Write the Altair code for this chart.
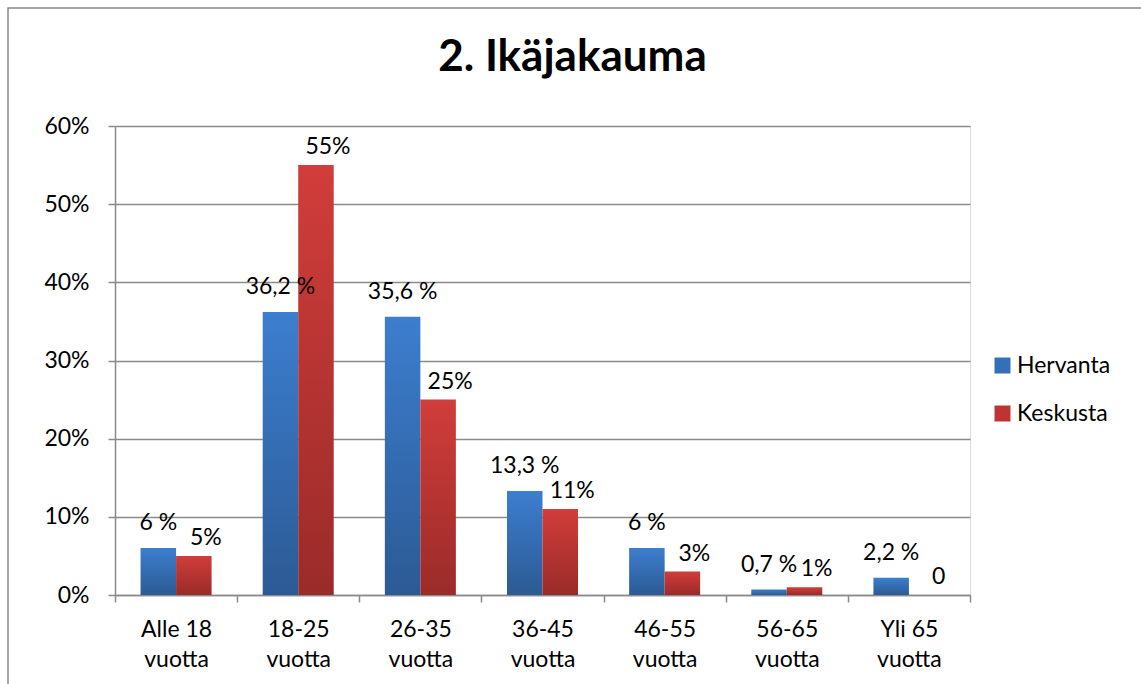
import altair as alt
import pandas as pd

categories = ["Alle 18\nvuotta", "18-25\nvuotta", "26-35\nvuotta", "36-45\nvuotta",
              "46-55\nvuotta", "56-65\nvuotta", "Yli 65\nvuotta"]
series = ["Hervanta", "Keskusta"]
hervanta = [0.06, 0.362, 0.356, 0.133, 0.06, 0.007, 0.022]
keskusta = [0.05, 0.55, 0.25, 0.11, 0.03, 0.01, 0.0]
hervanta_labels = ["6 %", "36,2 %", "35,6 %", "13,3 %", "6 %", "0,7 %", "2,2 %"]
keskusta_labels = ["5%", "55%", "25%", "11%", "3%", "1%", "0"]

rows = []
for c, v, l in zip(categories, hervanta, hervanta_labels):
    rows.append({"cat": c, "series": "Hervanta", "value": v, "label": l})
for c, v, l in zip(categories, keskusta, keskusta_labels):
    rows.append({"cat": c, "series": "Keskusta", "value": v, "label": l})
df = pd.DataFrame(rows)

FONT = "Lato"
GRID = "#8a8a8a"

x_enc = alt.X("cat:N", sort=categories, title=None,
              scale=alt.Scale(paddingInner=0, paddingOuter=0),
              axis=alt.Axis(labelAngle=0, labelExpr="split(datum.label, '\\n')",
                            tickBand="extent", tickSize=7, tickColor=GRID, tickWidth=1.5,
                            domainColor=GRID, domainWidth=1.5, labelFontSize=23,
                            labelFont=FONT, labelColor="black", labelPadding=16,
                            labelLineHeight=30, grid=False))
xoff = alt.XOffset("series:N", scale=alt.Scale(domain=series, paddingInner=0, paddingOuter=0.72))
y_enc = alt.Y("value:Q", title=None,
              scale=alt.Scale(domain=[0, 0.6], nice=False),
              axis=alt.Axis(values=[0, 0.1, 0.2, 0.3, 0.4, 0.5, 0.6], format=".0%",
                            gridColor=GRID, gridWidth=1.5, domainColor=GRID, domainWidth=1.5,
                            tickColor=GRID, tickWidth=1.5, tickSize=7,
                            labelFontSize=23, labelFont=FONT, labelColor="black",
                            labelPadding=19))

def grad(top, bottom):
    return {"gradient": "linear", "x1": 0, "x2": 0, "y1": 0, "y2": 1,
            "stops": [{"offset": 0, "color": top}, {"offset": 1, "color": bottom}]}

base = alt.Chart(df)

bars_h = base.transform_filter(alt.datum.series == "Hervanta").mark_bar(
    color=grad("#3c7ecf", "#2c5a94")).encode(x=x_enc, xOffset=xoff, y=y_enc)
bars_k = base.transform_filter(alt.datum.series == "Keskusta").mark_bar(
    color=grad("#d13d3a", "#9a2b29")).encode(x=x_enc, xOffset=xoff, y=y_enc)

legend_layer = base.mark_square(opacity=0, size=1).encode(
    x=x_enc, xOffset=xoff, y=y_enc,
    color=alt.Color("series:N", scale=alt.Scale(domain=series, range=["#3470b8", "#bf3432"]),
                    legend=alt.Legend(title=None, orient="none", legendX=876, legendY=228,
                                      symbolType="square", symbolSize=256, symbolOpacity=1,
                                      labelFontSize=23, labelFont=FONT, labelColor="black",
                                      labelOffset=3, rowPadding=24, padding=0,
                                      symbolStrokeWidth=0)))

text_h = base.transform_filter(alt.datum.series == "Hervanta").mark_text(
    baseline="middle", align="center", dy=-25, fontSize=23, font=FONT, color="black").encode(
    x=x_enc, xOffset=xoff, y=y_enc, text="label:N")
text_k = base.transform_filter(alt.datum.series == "Keskusta").mark_text(
    baseline="middle", align="center", dy=-18, dx=12, fontSize=23, font=FONT, color="black").encode(
    x=x_enc, xOffset=xoff, y=y_enc, text="label:N")

border = alt.Chart(alt.Data(values=[{}])).mark_rect(
    fill=None, stroke="#888888", strokeWidth=1.5).encode(
    x=alt.value(-107), y=alt.value(-118), x2=alt.value(1100), y2=alt.value(700))

chart = alt.layer(border, bars_h, bars_k, legend_layer, text_h, text_k).properties(
    width=855, height=469,
    title=alt.TitleParams("2. Ikäjakauma", fontSize=44, fontWeight="bold", font=FONT,
                          color="black", anchor="middle", dx=30, offset=-108,
                          baseline="alphabetic"),
    autosize=alt.AutoSizeParams(type="none"),
    padding={"left": 115, "top": 126, "right": 171, "bottom": 89},
).configure_view(stroke=None).configure(background="white")

chart.save("out.html", embed_options={"renderer": "svg", "actions": False})
